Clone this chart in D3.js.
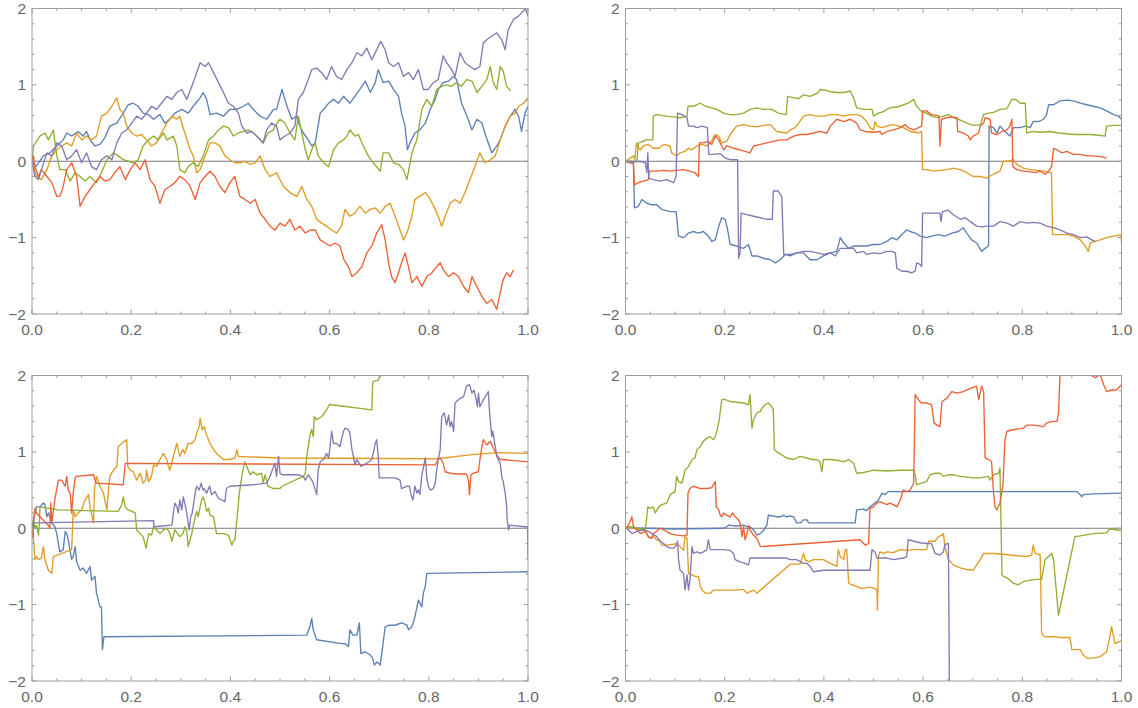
<!DOCTYPE html>
<html>
<head>
<meta charset="utf-8">
<script src="https://cdn.jsdelivr.net/npm/d3@7"></script>
<style>
  html, body { margin: 0; padding: 0; background: #fff; }
  svg { display: block; }
</style>
</head>
<body>
<svg id="chart" width="1138" height="708"></svg>
<script>
// Sample paths, [t, value] pairs, one list per curve.
const p1Blue = [[0,0],[.008,-.07],[.023,.07],[.036,.11],[.05,.2],[.063,.28],[.07,.37],[.08,.33],[.093,.39],[.103,.33],[.11,.39],[.117,.28],[.127,.2],[.137,.22],[.147,.31],[.157,.46],[.171,.5],[.184,.63],[.194,.74],[.204,.76],[.214,.72],[.224,.63],[.235,.61],[.245,.55],[.258,.61],[.268,.5],[.278,.55],[.288,.63],[.302,.68],[.315,.63],[.325,.72],[.339,.83],[.345,.9],[.352,.81],[.359,.61],[.372,.63],[.386,.59],[.399,.68],[.413,.68],[.426,.72],[.436,.76],[.446,.68],[.46,.59],[.473,.55],[.487,.68],[.493,.68],[.504,.94],[.514,.72],[.524,.55],[.534,.59],[.54,.46],[.547,.37],[.557,.28],[.564,.2],[.571,.24],[.581,.63],[.588,.68],[.598,.76],[.608,.81],[.618,.76],[.628,.85],[.641,.76],[.651,.85],[.661,.94],[.672,1.05],[.682,.9],[.692,1.03],[.698,1.2],[.708,1.03],[.719,1.05],[.729,.94],[.739,.85],[.745,.63],[.752,.46],[.757,.15],[.762,.24],[.772,.37],[.782,.41],[.793,.5],[.803,.68],[.813,.81],[.819,.94],[.829,1.03],[.84,1.05],[.85,1.11],[.856,1.07],[.866,.76],[.877,.59],[.887,.41],[.897,.55],[.907,.5],[.913,.37],[.92,.24],[.927,.11],[.937,.2],[.944,.28],[.954,.46],[.964,.59],[.974,.68],[.981,.59],[.987,.39],[.994,.63],[1,.72]];
const p1Orange = [[0,0],[.009,-.2],[.019,-.24],[.03,-.11],[.04,.07],[.05,.15],[.06,.2],[.07,.24],[.08,.2],[.09,.37],[.1,.28],[.11,.33],[.12,.28],[.13,.33],[.14,.59],[.151,.63],[.161,.72],[.171,.83],[.177,.68],[.184,.63],[.191,.46],[.201,.37],[.211,.33],[.221,.35],[.231,.28],[.241,.2],[.251,.24],[.261,.37],[.272,.5],[.282,.59],[.292,.55],[.298,.59],[.308,.37],[.319,.15],[.325,.07],[.332,-.15],[.339,-.11],[.349,.07],[.359,.24],[.369,.24],[.379,.2],[.389,.07],[.399,.02],[.409,-.02],[.419,-.02],[.429,0],[.44,-.04],[.45,-.02],[.46,.07],[.47,-.11],[.48,-.2],[.493,-.15],[.507,-.33],[.52,-.41],[.534,-.46],[.544,-.33],[.554,-.5],[.564,-.59],[.574,-.76],[.584,-.81],[.594,-.85],[.604,-.9],[.614,-.94],[.624,-.85],[.631,-.63],[.641,-.72],[.651,-.68],[.661,-.59],[.672,-.68],[.682,-.63],[.692,-.61],[.702,-.68],[.712,-.59],[.722,-.55],[.732,-.72],[.742,-.9],[.749,-1.03],[.756,-.94],[.766,-.72],[.772,-.5],[.782,-.46],[.793,-.41],[.803,-.5],[.813,-.63],[.819,-.72],[.826,-.85],[.833,-.72],[.843,-.55],[.853,-.5],[.863,-.55],[.873,-.41],[.883,-.24],[.893,-.07],[.903,.11],[.913,-.02],[.924,.02],[.934,.07],[.944,.28],[.954,.46],[.964,.59],[.974,.63],[.981,.72],[.991,.76],[1,.83]];
const p1Green = [[0,0],[.003,.2],[.016,.33],[.026,.37],[.033,.28],[.043,.41],[.05,.07],[.056,-.11],[.067,-.11],[.077,-.26],[.087,-.15],[.097,-.2],[.107,-.26],[.117,-.2],[.13,-.28],[.14,-.15],[.151,.02],[.164,.11],[.174,.07],[.184,.02],[.194,0],[.204,-.02],[.214,.02],[.224,.2],[.235,.28],[.245,.33],[.255,.28],[.265,.37],[.272,.28],[.285,.33],[.292,.2],[.298,-.11],[.308,-.15],[.315,-.07],[.325,-.02],[.335,-.07],[.345,.07],[.356,.28],[.366,.33],[.376,.41],[.386,.46],[.396,.44],[.406,.33],[.416,.37],[.426,.39],[.436,.41],[.446,.37],[.456,.31],[.466,.24],[.476,.37],[.487,.41],[.49,.46],[.5,.55],[.51,.5],[.52,.37],[.53,.28],[.537,.59],[.544,.37],[.551,.15],[.557,.02],[.564,.15],[.571,.24],[.577,.07],[.588,-.02],[.598,-.07],[.608,.15],[.618,.24],[.628,.28],[.635,.33],[.641,.41],[.651,.33],[.658,.35],[.668,.2],[.678,.07],[.688,-.02],[.702,-.13],[.708,.11],[.719,.11],[.729,-.02],[.739,-.04],[.749,-.11],[.756,-.24],[.766,.11],[.776,.28],[.786,.68],[.796,.81],[.806,.72],[.816,.94],[.826,.98],[.836,1],[.846,.98],[.856,1.03],[.866,.98],[.876,1.07],[.887,1.05],[.897,.9],[.907,.98],[.917,1.07],[.924,1.24],[.93,1.03],[.937,.94],[.944,1.24],[.95,1.18],[.957,.98],[.965,.92]];
const p1Red = [[0,0],[.003,.07],[.006,-.07],[.013,-.2],[.019,-.11],[.03,-.2],[.04,-.28],[.05,-.46],[.056,-.46],[.063,-.33],[.07,-.11],[.08,-.02],[.09,-.2],[.097,-.59],[.107,-.46],[.117,-.37],[.127,-.28],[.137,-.2],[.147,-.26],[.157,-.24],[.167,-.15],[.177,-.07],[.188,-.24],[.198,-.11],[.208,-.02],[.218,-.11],[.228,.02],[.238,-.24],[.248,-.33],[.258,-.55],[.268,-.37],[.278,-.33],[.288,-.28],[.298,-.2],[.308,-.24],[.319,-.33],[.329,-.5],[.339,-.28],[.349,-.2],[.359,-.13],[.369,-.2],[.379,-.33],[.389,-.41],[.399,-.28],[.409,-.2],[.419,-.46],[.429,-.5],[.44,-.55],[.45,-.5],[.46,-.68],[.47,-.76],[.48,-.85],[.49,-.9],[.5,-.81],[.51,-.85],[.52,-.76],[.53,-.9],[.54,-.85],[.551,-.94],[.561,-.9],[.571,-.9],[.581,-1.03],[.591,-1.07],[.601,-1.11],[.611,-1.07],[.621,-1.11],[.629,-1.29],[.638,-1.38],[.645,-1.51],[.655,-1.46],[.665,-1.38],[.675,-1.2],[.685,-1.11],[.695,-.94],[.705,-.83],[.712,-1.03],[.719,-1.33],[.725,-1.51],[.732,-1.59],[.739,-1.46],[.745,-1.33],[.752,-1.2],[.759,-1.38],[.766,-1.59],[.776,-1.51],[.786,-1.64],[.796,-1.51],[.806,-1.46],[.816,-1.38],[.823,-1.33],[.829,-1.42],[.84,-1.51],[.85,-1.46],[.86,-1.51],[.87,-1.64],[.88,-1.72],[.887,-1.51],[.897,-1.64],[.907,-1.77],[.917,-1.86],[.927,-1.81],[.937,-1.94],[.944,-1.72],[.95,-1.55],[.957,-1.46],[.964,-1.51],[.971,-1.42]];
const p1Purple = [[0,0],[.006,-.2],[.013,-.24],[.019,-.11],[.03,.11],[.04,.07],[.05,.24],[.06,.2],[.07,.02],[.08,.07],[.09,.15],[.1,-.02],[.11,.11],[.12,-.07],[.13,-.11],[.14,.02],[.151,.07],[.161,.02],[.171,.24],[.181,.37],[.191,.41],[.201,.5],[.211,.59],[.221,.55],[.231,.63],[.241,.72],[.251,.68],[.261,.76],[.272,.85],[.282,.81],[.292,.9],[.302,.94],[.312,.81],[.322,.98],[.332,1.16],[.339,1.29],[.349,1.24],[.356,1.29],[.366,1.16],[.376,1.03],[.386,.9],[.396,.76],[.406,.72],[.416,.63],[.423,.46],[.433,.37],[.443,.39],[.453,.33],[.466,.24],[.473,.41],[.483,.5],[.493,.46],[.5,.28],[.51,.33],[.52,.37],[.53,.46],[.537,.81],[.547,.9],[.557,1.07],[.564,1.2],[.574,1.22],[.584,1.16],[.594,1.07],[.604,1.24],[.614,1.11],[.624,1.07],[.635,1.2],[.645,1.29],[.655,1.42],[.665,1.38],[.675,1.48],[.685,1.33],[.695,1.46],[.703,1.57],[.712,1.46],[.719,1.29],[.729,1.24],[.739,1.29],[.749,1.11],[.759,1.16],[.769,1.07],[.779,1.2],[.789,.94],[.799,.94],[.809,1.03],[.819,1.07],[.829,1.38],[.836,1.29],[.846,1.2],[.853,1.11],[.863,1.42],[.873,1.29],[.883,1.24],[.893,1.2],[.903,1.24],[.91,1.55],[.917,1.59],[.927,1.64],[.937,1.68],[.947,1.59],[.954,1.46],[.96,1.72],[.971,1.86],[.981,1.9],[.991,1.97],[.995,2],[1,1.9]];

const p2Blue = [[0,0],[.013,-.02],[.016,-.04],[.018,-.61],[.026,-.59],[.033,-.5],[.043,-.55],[.053,-.57],[.063,-.57],[.073,-.63],[.09,-.66],[.102,-.66],[.107,-.98],[.117,-1],[.127,-.94],[.137,-.92],[.147,-.94],[.157,-.92],[.167,-.98],[.174,-1.05],[.181,-1.03],[.188,-.85],[.194,-.74],[.201,-.76],[.206,-.9],[.211,-1.09],[.224,-1.11],[.238,-1.14],[.248,-1.09],[.255,-1.24],[.265,-1.24],[.278,-1.27],[.292,-1.29],[.302,-1.33],[.312,-1.29],[.322,-1.22],[.332,-1.24],[.345,-1.2],[.359,-1.2],[.372,-1.29],[.386,-1.29],[.399,-1.24],[.413,-1.2],[.426,-1.18],[.433,-1],[.44,-1.07],[.45,-1.14],[.46,-1.11],[.473,-1.11],[.486,-1.11],[.5,-1.09],[.513,-1.09],[.527,-1.05],[.537,-1],[.547,-1.03],[.557,-.96],[.567,-.9],[.574,-.92],[.584,-.94],[.594,-.98],[.607,-1],[.617,-.98],[.631,-.96],[.644,-.98],[.658,-.94],[.671,-.92],[.681,-.87],[.688,-.94],[.698,-1.03],[.708,-1.07],[.718,-1.18],[.725,-1.14],[.732,-1.11],[.733,.46],[.742,.44],[.749,.37],[.755,.46],[.765,.39],[.775,.33],[.782,.44],[.796,.44],[.806,.46],[.816,.44],[.822,.52],[.833,.52],[.843,.55],[.849,.61],[.853,.74],[.863,.74],[.876,.79],[.89,.8],[.903,.79],[.917,.76],[.93,.74],[.943,.72],[.957,.7],[.97,.66],[.984,.61],[.994,.59],[1,.55]];
const p2Orange = [[0,0],[.016,.07],[.019,.02],[.022,.24],[.024,.2],[.03,.15],[.036,.2],[.046,.22],[.056,.17],[.067,.17],[.077,.22],[.09,.2],[.093,.11],[.103,.07],[.11,.11],[.12,.13],[.127,.17],[.134,.15],[.144,.2],[.154,.22],[.164,.2],[.171,.24],[.181,.35],[.188,.33],[.194,.24],[.204,.26],[.211,.35],[.224,.46],[.238,.48],[.251,.46],[.265,.45],[.278,.47],[.292,.48],[.305,.39],[.315,.38],[.325,.37],[.332,.41],[.342,.44],[.349,.5],[.359,.59],[.372,.61],[.386,.59],[.399,.59],[.413,.61],[.426,.61],[.44,.59],[.453,.61],[.466,.61],[.476,.59],[.486,.52],[.493,.44],[.5,.41],[.503,.52],[.507,.46],[.517,.44],[.527,.46],[.537,.48],[.547,.47],[.56,.44],[.574,.39],[.584,.38],[.591,.37],[.597,.39],[.599,-.11],[.607,-.11],[.621,-.13],[.634,-.12],[.648,-.11],[.661,-.09],[.675,-.11],[.688,-.15],[.701,-.2],[.715,-.2],[.728,-.22],[.742,-.17],[.755,-.13],[.762,0],[.772,0],[.782,.02],[.789,-.04],[.802,-.09],[.816,-.11],[.829,-.12],[.843,-.13],[.856,-.15],[.859,-.15],[.861,-.96],[.876,-.96],[.89,-.96],[.903,-.98],[.917,-1.03],[.927,-1.11],[.933,-1.18],[.937,-1.07],[.947,-1.05],[.957,-1.03],[.97,-1],[.984,-.98],[.999,-.96],[1,-1.07]];
const p2Green = [[0,0],[.023,0],[.026,.24],[.036,.26],[.04,.28],[.055,.28],[.056,.59],[.063,.61],[.083,.59],[.097,.58],[.11,.57],[.124,.59],[.126,.72],[.137,.72],[.151,.76],[.161,.72],[.174,.7],[.184,.68],[.198,.63],[.211,.61],[.224,.61],[.238,.63],[.251,.68],[.265,.7],[.278,.68],[.295,.68],[.308,.63],[.324,.61],[.327,.85],[.339,.83],[.349,.82],[.359,.87],[.372,.85],[.389,.9],[.392,.94],[.403,.93],[.413,.91],[.426,.9],[.44,.9],[.453,.92],[.46,.83],[.466,.7],[.48,.68],[.497,.68],[.5,.59],[.51,.63],[.52,.65],[.533,.7],[.547,.71],[.557,.73],[.57,.76],[.581,.81],[.587,.72],[.597,.65],[.607,.63],[.617,.59],[.628,.57],[.641,.59],[.651,.61],[.661,.57],[.675,.54],[.688,.5],[.701,.47],[.716,.48],[.722,.61],[.732,.63],[.742,.64],[.755,.68],[.769,.69],[.779,.81],[.786,.81],[.796,.76],[.806,.76],[.809,.37],[.822,.39],[.839,.38],[.856,.39],[.873,.37],[.89,.36],[.907,.35],[.923,.35],[.937,.35],[.954,.34],[.967,.33],[.97,.46],[.984,.47],[1,.47]];
const p2Red = [[0,0],[.009,-.02],[.016,-.02],[.018,-.31],[.026,-.28],[.036,-.26],[.046,-.24],[.048,-.13],[.063,-.13],[.077,-.12],[.09,-.13],[.103,-.12],[.117,-.11],[.13,-.13],[.14,-.15],[.147,-.2],[.149,.24],[.157,.24],[.167,.26],[.174,.22],[.181,.33],[.188,.28],[.194,.2],[.198,.15],[.204,.2],[.218,.17],[.231,.15],[.241,.13],[.251,.11],[.258,.2],[.272,.22],[.285,.24],[.298,.26],[.312,.28],[.325,.28],[.339,.33],[.352,.35],[.366,.35],[.379,.37],[.392,.39],[.406,.37],[.413,.46],[.426,.55],[.44,.52],[.453,.55],[.466,.5],[.473,.41],[.483,.39],[.5,.38],[.513,.39],[.517,.35],[.527,.39],[.54,.41],[.554,.44],[.564,.48],[.57,.44],[.581,.41],[.591,.44],[.597,.46],[.599,.66],[.607,.66],[.617,.61],[.628,.6],[.632,.59],[.634,.2],[.637,.55],[.648,.57],[.658,.58],[.668,.57],[.67,.39],[.681,.37],[.691,.33],[.695,.28],[.701,.33],[.712,.37],[.715,.46],[.722,.5],[.725,.57],[.735,.55],[.738,.37],[.749,.35],[.759,.39],[.769,.41],[.775,.46],[.779,.55],[.781,-.07],[.789,-.11],[.802,-.13],[.816,-.14],[.826,-.15],[.836,-.13],[.846,-.17],[.853,-.13],[.859,-.07],[.863,.17],[.87,.15],[.88,.11],[.89,.13],[.903,.09],[.917,.09],[.93,.07],[.943,.07],[.957,.06],[.97,.04]];
const p2Purple = [[0,0],[.016,-.01],[.03,0],[.04,-.02],[.043,-.15],[.045,.11],[.047,-.22],[.056,-.24],[.07,-.26],[.083,-.24],[.097,-.28],[.102,-.2],[.105,.63],[.114,.61],[.124,.57],[.127,.46],[.137,.46],[.144,.44],[.154,.46],[.165,.44],[.168,.09],[.177,.09],[.191,.1],[.201,.04],[.211,.02],[.226,.02],[.228,-1.27],[.231,-1.2],[.233,-.68],[.245,-.7],[.258,-.72],[.272,-.74],[.285,-.76],[.296,-.76],[.298,-.39],[.308,-.39],[.315,-.46],[.319,-1.22],[.332,-1.22],[.345,-1.2],[.359,-1.18],[.372,-1.18],[.386,-1.2],[.399,-1.22],[.413,-1.2],[.423,-1.24],[.433,-1.14],[.446,-1.14],[.46,-1.14],[.466,-1.2],[.48,-1.18],[.486,-1.22],[.5,-1.2],[.513,-1.21],[.527,-1.18],[.537,-1.18],[.544,-1.2],[.547,-1.4],[.557,-1.44],[.567,-1.44],[.577,-1.46],[.584,-1.44],[.587,-1.33],[.594,-1.35],[.597,-1.38],[.599,-.68],[.607,-.68],[.621,-.68],[.634,-.68],[.636,-.79],[.639,-.66],[.651,-.64],[.661,-.7],[.675,-.76],[.685,-.74],[.695,-.79],[.708,-.85],[.718,-.86],[.728,-.85],[.742,-.85],[.755,-.79],[.769,-.81],[.782,-.85],[.796,-.79],[.809,-.81],[.822,-.8],[.836,-.81],[.849,-.85],[.863,-.87],[.876,-.9],[.89,-.94],[.903,-.96],[.917,-1],[.93,-.99],[.94,-1.03],[.947,-1.05]];

const p3Blue = [[0,0],[.003,.11],[.009,.28],[.016,.28],[.023,.33],[.026,.31],[.03,.15],[.033,.2],[.04,.07],[.046,.02],[.05,-.07],[.056,-.31],[.063,-.28],[.067,-.04],[.07,-.07],[.073,-.15],[.08,-.41],[.083,-.37],[.087,-.24],[.09,-.44],[.097,-.55],[.103,-.52],[.11,-.59],[.117,-.5],[.12,-.68],[.127,-.63],[.13,-.85],[.137,-1.03],[.14,-1.03],[.142,-1.59],[.145,-1.42],[.554,-1.4],[.561,-1.27],[.564,-1.18],[.567,-1.33],[.574,-1.46],[.624,-1.51],[.631,-1.51],[.638,-1.55],[.641,-1.33],[.647,-1.4],[.655,-1.4],[.66,-1.24],[.663,-1.64],[.672,-1.62],[.682,-1.66],[.687,-1.7],[.69,-1.79],[.696,-1.75],[.702,-1.79],[.707,-1.55],[.712,-1.29],[.719,-1.27],[.732,-1.27],[.745,-1.24],[.756,-1.27],[.759,-1.33],[.766,-1.29],[.772,-1.16],[.779,-.94],[.786,-1.03],[.789,-.85],[.793,-.76],[.796,-.59],[1,-.57]];
const p3Orange = [[0,0],[.003,-.15],[.006,-.41],[.009,-.37],[.013,-.41],[.019,-.39],[.023,-.24],[.026,-.41],[.033,-.55],[.04,-.59],[.043,-.37],[.08,-.28],[.083,.24],[.087,.15],[.093,.2],[.1,.24],[.107,.37],[.114,.44],[.117,.28],[.124,.07],[.126,.52],[.13,.68],[.137,.55],[.144,.46],[.151,.24],[.154,.5],[.157,.68],[.164,.76],[.171,.81],[.174,1.07],[.181,1.11],[.191,1.16],[.193,.81],[.198,.76],[.204,.74],[.211,.63],[.218,.72],[.224,.59],[.229,.63],[.231,.76],[.235,.61],[.241,.68],[.245,.83],[.251,.81],[.258,.9],[.265,.98],[.272,.9],[.275,.81],[.278,.76],[.285,.94],[.292,1.11],[.298,.94],[.304,1.03],[.308,.98],[.315,1.11],[.322,1.11],[.329,1.16],[.332,1.24],[.337,1.33],[.339,1.44],[.343,1.29],[.347,1.33],[.352,1.22],[.359,1.11],[.366,1.03],[.372,.98],[.379,.94],[.386,.9],[.399,.9],[.409,.92],[.413,1.03],[.416,.94],[.5,.92],[.816,.91],[.883,.96],[.937,.99],[1,.98]];
const p3Green = [[0,0],[.003,.11],[.006,0],[.009,.04],[.013,-.09],[.015,.07],[.016,.28],[.053,.24],[.174,.22],[.181,.31],[.184,.41],[.188,.28],[.194,.24],[.201,.22],[.208,.2],[.211,-.02],[.218,-.07],[.224,-.11],[.23,-.26],[.235,-.07],[.241,-.09],[.245,.02],[.251,-.02],[.258,-.07],[.265,-.02],[.272,0],[.278,-.07],[.282,-.17],[.288,-.02],[.298,-.11],[.305,-.07],[.308,.02],[.312,-.04],[.315,-.24],[.322,-.07],[.329,.15],[.332,.22],[.335,.15],[.339,.28],[.342,.37],[.345,.41],[.349,.33],[.352,.22],[.356,.26],[.359,.17],[.366,.15],[.372,-.07],[.386,-.07],[.396,-.09],[.403,-.22],[.406,-.17],[.409,-.15],[.414,.17],[.418,.46],[.423,.68],[.429,.87],[.433,.81],[.436,.76],[.44,.7],[.446,.74],[.453,.7],[.463,.72],[.466,.59],[.47,.7],[.476,.55],[.487,.52],[.5,.52],[.504,.55],[.547,.68],[.551,.72],[.554,.94],[.557,1.07],[.561,1.24],[.564,1.29],[.567,1.2],[.569,1.46],[.574,1.42],[.584,1.46],[.594,1.55],[.6,1.62],[.685,1.55],[.687,1.92],[.698,1.94],[.702,1.99],[.712,2.03],[.722,2.12]];
const p3Red = [[0,0],[.002,-.12],[.003,.07],[.006,.26],[.009,.2],[.019,.13],[.033,.04],[.036,0],[.038,.33],[.04,.07],[.046,.37],[.053,.63],[.06,.63],[.063,.59],[.067,.55],[.07,.68],[.073,.5],[.077,.46],[.08,.2],[.083,.46],[.087,.66],[.09,.68],[.124,.7],[.127,.63],[.13,.59],[.184,.57],[.188,.85],[.813,.83],[.819,.9],[.823,.92],[.829,.85],[.833,.74],[.843,.72],[.856,.71],[.876,.71],[.88,.63],[.882,.44],[.885,.7],[.89,.72],[.9,.74],[.903,.9],[.907,1.07],[.91,1.16],[.917,1.09],[.924,1.14],[.93,1.05],[.937,.96],[.944,.9],[.947,.9],[1,.87]];
const p3Purple = [[0,0],[.003,.07],[.009,.07],[.245,.1],[.246,.02],[.282,.04],[.285,.2],[.288,.33],[.292,.28],[.295,.2],[.298,.37],[.302,.24],[.305,.41],[.308,.33],[.312,.2],[.317,-.02],[.32,.15],[.323,.2],[.329,.46],[.332,.55],[.337,.5],[.341,.59],[.345,.5],[.347,.52],[.352,.46],[.358,.55],[.362,.44],[.369,.48],[.376,.39],[.382,.37],[.389,.35],[.392,.52],[.399,.55],[.446,.57],[.473,.59],[.48,.68],[.487,.81],[.49,.85],[.493,.68],[.497,.94],[.5,.72],[.504,.7],[.537,.7],[.547,.68],[.551,.63],[.557,.7],[.564,.63],[.567,.59],[.574,.44],[.577,.76],[.581,.87],[.588,.9],[.594,.98],[.598,.92],[.601,1.07],[.604,1.27],[.608,1.11],[.614,1.11],[.621,1.07],[.624,1.16],[.628,1.27],[.631,1.31],[.638,1.29],[.641,1.24],[.645,1.03],[.648,.94],[.651,.83],[.655,.9],[.658,.87],[.663,.81],[.675,.85],[.685,.9],[.688,.98],[.692,1.11],[.695,1.16],[.698,.94],[.7,.66],[.722,.66],[.732,.66],[.742,.63],[.745,.52],[.756,.55],[.761,.55],[.764,.44],[.768,.37],[.772,.55],[.776,.46],[.779,.5],[.782,.44],[.786,.7],[.789,.79],[.793,.92],[.796,.66],[.799,.55],[.803,.5],[.809,.52],[.813,.59],[.816,.76],[.819,.9],[.823,1.03],[.826,1.46],[.831,1.51],[.836,1.35],[.84,1.48],[.843,1.33],[.846,1.4],[.85,1.27],[.853,1.64],[.856,1.66],[.863,1.7],[.87,1.72],[.876,1.86],[.882,1.88],[.887,1.77],[.891,1.81],[.895,1.7],[.898,1.59],[.9,1.77],[.903,1.59],[.91,1.68],[.92,1.79],[.922,1.57],[.925,1.33],[.927,1.2],[.929,1.27],[.934,1.07],[.937,.94],[.944,.85],[.947,.68],[.95,.61],[.954,.46],[.957,.28],[.958,.11],[.961,-.02],[.963,.04],[.994,.02],[.999,.02],[1,-.41]];

const p4Blue = [[0,0],[.05,0],[.097,-.01],[.198,0],[.204,.02],[.208,.04],[.224,.03],[.238,.04],[.245,.02],[.251,.02],[.258,-.02],[.265,-.09],[.272,-.07],[.278,-.03],[.285,.04],[.288,.17],[.298,.16],[.305,.15],[.312,.15],[.319,.17],[.325,.15],[.332,.16],[.339,.15],[.345,.07],[.352,.07],[.359,.11],[.366,.11],[.369,.07],[.399,.07],[.453,.07],[.463,.07],[.466,.24],[.48,.25],[.486,.23],[.493,.28],[.503,.33],[.51,.37],[.517,.46],[.523,.44],[.53,.48],[.742,.48],[.91,.48],[.917,.44],[.92,.41],[.923,.44],[.943,.45],[1,.46]];
const p4Orange = [[0,0],[.016,0],[.03,-.02],[.04,-.02],[.046,-.11],[.05,-.13],[.056,-.11],[.063,-.15],[.07,-.17],[.073,-.22],[.083,-.22],[.097,-.21],[.103,-.2],[.11,-.24],[.117,-.29],[.12,-.11],[.124,-.13],[.127,-.59],[.134,-.61],[.14,-.63],[.147,-.63],[.151,-.76],[.154,-.81],[.161,-.85],[.171,-.85],[.177,-.81],[.191,-.81],[.211,-.81],[.224,-.81],[.238,-.8],[.245,-.85],[.251,-.83],[.258,-.81],[.265,-.85],[.332,-.47],[.352,-.47],[.359,-.33],[.362,-.41],[.369,-.44],[.379,-.41],[.392,-.41],[.399,-.41],[.413,-.46],[.426,-.5],[.429,-.28],[.433,-.37],[.44,-.41],[.443,-.28],[.446,-.28],[.45,-.72],[.456,-.74],[.466,-.76],[.476,-.79],[.493,-.77],[.503,-.79],[.507,-.81],[.508,-1.07],[.51,-.37],[.513,-.31],[.52,-.33],[.527,-.31],[.54,-.32],[.554,-.28],[.567,-.29],[.581,-.28],[.594,-.28],[.607,-.28],[.611,-.17],[.617,-.17],[.624,-.17],[.631,-.11],[.638,-.09],[.641,-.07],[.644,-.24],[.651,-.41],[.661,-.48],[.675,-.52],[.688,-.54],[.701,-.55],[.708,-.48],[.715,-.41],[.722,-.33],[.728,-.33],[.742,-.33],[.762,-.34],[.775,-.35],[.789,-.36],[.809,-.37],[.819,-.35],[.822,-.22],[.826,-.33],[.836,-.35],[.839,-1.38],[.846,-1.42],[.863,-1.42],[.876,-1.43],[.896,-1.43],[.9,-1.59],[.917,-1.59],[.923,-1.66],[.93,-1.7],[.943,-1.7],[.957,-1.68],[.97,-1.62],[.976,-1.44],[.98,-1.29],[.984,-1.42],[.987,-1.51],[.997,-1.48],[1,-1.48]];
const p4Green = [[0,0],[.009,.02],[.023,0],[.04,-.02],[.043,.15],[.045,.28],[.05,.26],[.056,.28],[.06,.2],[.067,.28],[.073,.31],[.083,.33],[.09,.44],[.1,.48],[.103,.68],[.107,.61],[.114,.59],[.12,.76],[.127,.81],[.134,.9],[.14,.92],[.144,1.03],[.151,1.07],[.157,1.14],[.164,1.18],[.171,1.2],[.177,1.16],[.181,1.2],[.184,1.27],[.189,1.42],[.194,1.68],[.198,1.69],[.211,1.66],[.224,1.65],[.238,1.64],[.248,1.62],[.251,1.75],[.255,1.31],[.258,1.42],[.265,1.51],[.272,1.53],[.275,1.57],[.282,1.62],[.288,1.64],[.295,1.59],[.298,1.55],[.3,1.03],[.305,1],[.315,.96],[.325,.92],[.339,.9],[.352,.94],[.366,.92],[.376,.9],[.386,.9],[.392,.87],[.396,.74],[.399,.9],[.413,.9],[.426,.89],[.44,.87],[.45,.9],[.46,.85],[.466,.72],[.48,.73],[.5,.76],[.527,.75],[.554,.76],[.581,.76],[.584,.7],[.587,.57],[.597,.59],[.607,.61],[.614,.7],[.624,.72],[.634,.72],[.641,.68],[.651,.7],[.661,.7],[.675,.68],[.688,.67],[.701,.66],[.715,.66],[.732,.68],[.735,.63],[.742,.7],[.752,.72],[.755,.79],[.759,-.61],[.762,-.63],[.772,-.66],[.782,-.72],[.792,-.74],[.802,-.7],[.816,-.68],[.829,-.67],[.839,-.67],[.846,-.41],[.853,-.37],[.859,-.33],[.863,-.41],[.873,-1.14],[.906,-.11],[.917,-.1],[.943,-.07],[.97,-.06],[.976,-.01],[1,-.03]];
const p4Red = [[0,0],[.006,.04],[.013,.15],[.016,.02],[.023,-.02],[.03,-.07],[.04,-.04],[.046,-.11],[.053,-.13],[.056,-.07],[.063,-.04],[.07,0],[.077,-.02],[.09,-.07],[.103,-.09],[.117,-.1],[.124,-.09],[.126,.46],[.13,.52],[.137,.55],[.151,.52],[.164,.52],[.174,.53],[.177,.57],[.181,.61],[.183,.28],[.188,.24],[.191,.17],[.194,.15],[.198,.2],[.204,.17],[.211,.15],[.216,.2],[.221,.15],[.228,.11],[.231,.07],[.235,-.11],[.238,.02],[.241,-.15],[.245,-.07],[.248,.04],[.251,-.02],[.258,-.09],[.265,-.13],[.272,-.24],[.473,-.15],[.483,-.22],[.49,-.2],[.493,.26],[.5,.28],[.507,.33],[.513,.35],[.52,.33],[.527,.31],[.533,.33],[.54,.31],[.547,.28],[.554,.37],[.56,.5],[.567,.48],[.574,.5],[.581,.59],[.584,1.75],[.591,1.68],[.597,1.64],[.607,1.64],[.617,1.62],[.622,1.38],[.628,1.35],[.634,1.33],[.638,1.66],[.648,1.7],[.658,1.79],[.668,1.77],[.681,1.79],[.695,1.83],[.708,1.86],[.712,1.68],[.718,1.86],[.722,1.79],[.725,.92],[.732,.9],[.738,.87],[.742,.46],[.745,.28],[.749,.24],[.755,.33],[.761,.57],[.765,1.16],[.769,1.27],[.782,1.29],[.802,1.31],[.809,1.35],[.822,1.35],[.843,1.33],[.849,1.38],[.863,1.4],[.87,1.4],[.873,1.51],[.876,2.01],[.9,2.3],[.93,2.2],[.937,2.01],[.947,1.97],[.957,2.01],[.964,1.88],[.97,1.79],[.98,1.81],[.99,1.81],[1,1.88]];
const p4Purple = [[0,0],[.006,-.02],[.013,-.07],[.023,-.04],[.036,-.02],[.046,-.04],[.053,-.07],[.063,-.11],[.07,-.17],[.077,-.2],[.083,-.24],[.09,-.26],[.097,-.26],[.103,-.22],[.105,-.17],[.107,-.41],[.11,-.55],[.117,-.59],[.12,-.81],[.124,-.61],[.127,-.81],[.13,-.68],[.134,-.24],[.137,-.33],[.144,-.31],[.151,-.33],[.157,-.31],[.164,-.28],[.167,-.15],[.171,-.28],[.184,-.28],[.198,-.28],[.211,-.29],[.218,-.33],[.221,-.41],[.231,-.44],[.241,-.46],[.248,-.48],[.251,-.39],[.265,-.39],[.305,-.39],[.325,-.39],[.332,-.41],[.345,-.41],[.359,-.46],[.366,-.46],[.372,-.5],[.379,-.57],[.399,-.55],[.44,-.55],[.466,-.55],[.493,-.55],[.497,-.28],[.503,-.31],[.507,-.39],[.513,-.39],[.527,-.39],[.54,-.41],[.56,-.39],[.567,-.37],[.57,-.15],[.581,-.17],[.594,-.19],[.607,-.2],[.617,-.2],[.624,-.33],[.634,-.35],[.641,-.31],[.644,-.21],[.651,-.2],[.653,-2],[.654,-2.5]];

// Axis ticks and labels
const xMajorTicks = [0, 0.2, 0.4, 0.6, 0.8, 1.0];
const xTickLabels = ["0.0", "0.2", "0.4", "0.6", "0.8", "1.0"];
const xMinorTicks = [0.05,0.1,0.15,0.25,0.3,0.35,0.45,0.5,0.55,0.65,0.7,0.75,0.85,0.9,0.95];
const yMajorTicks = [-2, -1, 0, 1, 2];
const yTickLabels = ["\u22122", "\u22121", "0", "1", "2"];
const yMinorTicks = [-1.8,-1.6,-1.4,-1.2,-0.8,-0.6,-0.4,-0.2,0.2,0.4,0.6,0.8,1.2,1.4,1.6,1.8];

// Curve colours, in drawing order
const seriesColors = ["#5e81b5", "#e19c24", "#8fb032", "#eb6235", "#8778b3"];

const panelSeries = [
  [p1Blue, p1Orange, p1Green, p1Red, p1Purple],
  [p2Blue, p2Orange, p2Green, p2Red, p2Purple],
  [p3Blue, p3Orange, p3Green, p3Red, p3Purple],
  [p4Blue, p4Orange, p4Green, p4Red, p4Purple]
];

// Plot areas of the 2x2 grid
const panelBoxes = [
  { left: 32,  top: 8.5, width: 496, height: 305.5 },
  { left: 625.5, top: 8.5, width: 496, height: 305.5 },
  { left: 32,  top: 375.5, width: 496, height: 305.5 },
  { left: 625.5, top: 375.5, width: 496, height: 305.5 }
];

const svg = d3.select("#chart");
svg.append("rect").attr("width", 1138).attr("height", 708).attr("fill", "#fff");

const frameColor = "#9d9d9d";
const labelColor = "#666";
const fontFamily = "'Liberation Sans', Arial, 'DejaVu Sans', sans-serif";

panelBoxes.forEach((box, i) => {
  const x = d3.scaleLinear().domain([0, 1]).range([box.left, box.left + box.width]);
  const y = d3.scaleLinear().domain([-2, 2]).range([box.top + box.height, box.top]);
  const g = svg.append("g");

  const clipId = "clip" + i;
  svg.append("clipPath").attr("id", clipId)
    .append("rect")
    .attr("x", box.left).attr("y", box.top)
    .attr("width", box.width).attr("height", box.height);

  // zero axis
  g.append("line")
    .attr("x1", x(0)).attr("x2", x(1))
    .attr("y1", y(0)).attr("y2", y(0))
    .attr("stroke", "#7a7a7a").attr("stroke-width", 1);

  // curves
  const line = d3.line().x(d => x(d[0])).y(d => y(d[1]));
  const curves = g.append("g").attr("clip-path", `url(#${clipId})`);
  panelSeries[i].forEach((series, k) => {
    curves.append("path")
      .datum(series)
      .attr("d", line)
      .attr("fill", "none")
      .attr("stroke", seriesColors[k])
      .attr("stroke-width", 1.35)
      .attr("stroke-linejoin", "round");
  });

  // frame
  g.append("rect")
    .attr("x", box.left).attr("y", box.top)
    .attr("width", box.width).attr("height", box.height)
    .attr("fill", "none").attr("stroke", frameColor).attr("stroke-width", 1);

  // ticks on all four sides, pointing inward
  const bottom = box.top + box.height, right = box.left + box.width;
  const tickLines = [];
  xMajorTicks.forEach(t => { tickLines.push([x(t), bottom, x(t), bottom - 4.5]); tickLines.push([x(t), box.top, x(t), box.top + 4.5]); });
  xMinorTicks.forEach(t => { tickLines.push([x(t), bottom, x(t), bottom - 2.5]); tickLines.push([x(t), box.top, x(t), box.top + 2.5]); });
  yMajorTicks.forEach(v => { tickLines.push([box.left, y(v), box.left + 4.5, y(v)]); tickLines.push([right, y(v), right - 4.5, y(v)]); });
  yMinorTicks.forEach(v => { tickLines.push([box.left, y(v), box.left + 2.5, y(v)]); tickLines.push([right, y(v), right - 2.5, y(v)]); });
  g.append("g").selectAll("line").data(tickLines).join("line")
    .attr("x1", d => d[0]).attr("y1", d => d[1])
    .attr("x2", d => d[2]).attr("y2", d => d[3])
    .attr("stroke", frameColor).attr("stroke-width", 1);

  // tick labels
  g.append("g").selectAll("text").data(xMajorTicks).join("text")
    .attr("x", d => x(d)).attr("y", bottom + 20.5)
    .attr("text-anchor", "middle")
    .attr("font-family", fontFamily).attr("font-size", 15.5)
    .attr("fill", labelColor)
    .text((d, j) => xTickLabels[j]);
  g.append("g").selectAll("text").data(yMajorTicks).join("text")
    .attr("x", box.left - 6).attr("y", d => y(d) + 5.5)
    .attr("text-anchor", "end")
    .attr("font-family", fontFamily).attr("font-size", 15.5)
    .attr("fill", labelColor)
    .text((d, j) => yTickLabels[j]);
});
</script>
</body>
</html>
